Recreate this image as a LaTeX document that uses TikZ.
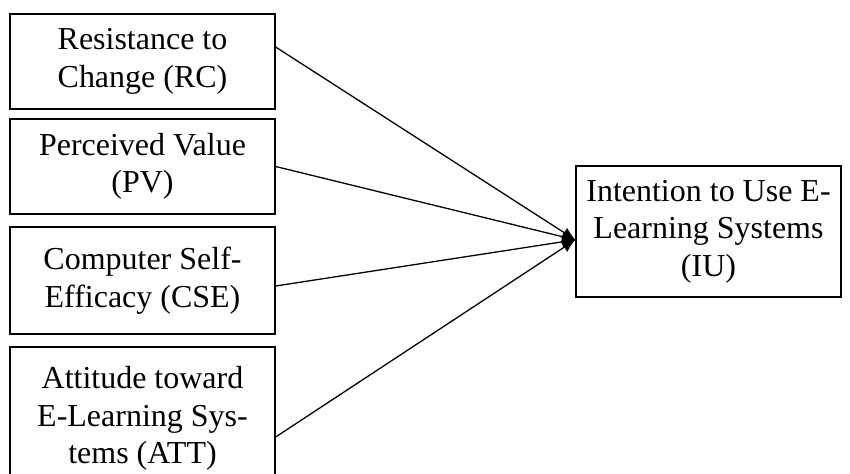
\documentclass[tikz,border=0pt]{standalone}
\usepackage{fontspec}
\setmainfont{Liberation Serif}
\usetikzlibrary{arrows.meta}

\begin{document}
\begin{tikzpicture}[x=0.03cm,y=-0.03cm,
	factor/.style={draw,line width=1.1pt,minimum width=7.95cm,align=center,
		inner sep=0pt,font=\fontsize{27.3}{32}\selectfont},
	path/.style={line width=1.1pt,black,-{Latex[length=0.4cm,width=0.34cm]}}]
	\useasboundingbox (0,0) rectangle (850,473);
	\path (142.5,61.5) node(rc)[factor,minimum height=2.85cm]{Resistance to\\Change (RC)}
		(142.5,166.5) node(pv)[factor,minimum height=2.85cm]{Perceived Value\\(PV)}
		(142.5,280.5) node(cse)[factor,minimum height=3.21cm]{Computer Self-\\Efficacy (CSE)}
		(142.5,418.5) node(att)[factor,minimum height=4.29cm]{Attitude toward\\E-Learning Sys-\\tems (ATT)}
		(708.5,231.5) node(iu)[factor,minimum height=3.93cm]{Intention to Use E-\\Learning Systems\\(IU)};
	\coordinate (tip) at ([yshift=-0.25cm]iu.west);
	\draw[path] ([yshift=0.435cm]rc.east) to (tip);
	\draw[path] (pv.east) to (tip);
	\draw[path] ([yshift=-0.165cm]cse.east) to (tip);
	\draw[path] ([yshift=-0.555cm]att.east) to (tip);
\end{tikzpicture}
\end{document}
